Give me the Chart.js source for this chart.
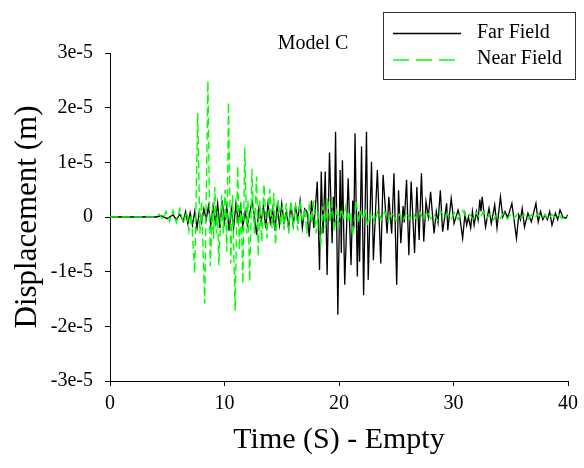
<!DOCTYPE html>
<html>
<head>
<meta charset="utf-8">
<script src="https://cdn.jsdelivr.net/npm/chart.js@4/dist/chart.umd.min.js"></script>
<style>
  html, body { margin: 0; padding: 0; background: #fff; }
  #wrap { width: 584px; height: 468px; position: relative; }
</style>
</head>
<body>
<div id="wrap"><canvas id="chart"></canvas></div>
<script>
// displacement values are in units of 1e-5 m
const UNIT = 1e-5;
const seriesNames = ['Far Field', 'Near Field'];
const xTickStep = 10;
const yTickLabels = ['-3e-5', '-2e-5', '-1e-5', '0', '1e-5', '2e-5', '3e-5'];

const farTime = [0, 4.0, 4.5, 5.0, 5.5, 5.8, 6.1, 6.4, 6.6, 6.8, 7.0, 7.2, 7.4, 7.6, 7.8, 8.0, 8.2, 8.4, 8.6, 8.8,
  9.0, 9.2, 9.4, 9.6, 9.8, 10.0, 10.2, 10.4, 10.6, 10.8, 11.0, 11.2, 11.4, 11.6, 11.8, 12.0, 12.4, 12.6, 12.8, 13.0,
  13.2, 13.4, 13.6, 13.8, 14.0, 14.2, 14.4, 14.6, 14.8, 15.0, 15.2, 15.4, 15.6, 15.8, 16.0, 16.2, 16.4, 16.6, 16.8, 17.0,
  17.2, 17.4, 17.6, 17.8, 18.1, 18.3, 18.45, 18.6, 18.8, 18.96, 19.17, 19.4, 19.5, 19.6, 19.7, 19.9, 20.1, 20.2, 20.3, 20.5,
  20.8, 21.05, 21.2, 21.3, 21.4, 21.6, 21.7, 21.8, 21.97, 22.15, 22.4, 22.55, 22.84, 23.0, 23.35, 23.65, 23.85, 24.2, 24.35, 24.6,
  24.8, 25.04, 25.2, 25.4, 25.6, 25.7, 25.9, 26.1, 26.3, 26.6, 26.8, 27.0, 27.2, 27.4, 27.6, 27.8, 28.0, 28.3, 28.5, 28.65,
  28.85, 29.05, 29.4, 29.5, 29.8, 30.05, 30.4, 30.55, 30.8, 31.0, 31.15, 31.3, 31.5, 31.65, 31.8, 32.0, 32.15, 32.3, 32.4, 32.5,
  32.8, 33.1, 33.3, 33.6, 33.8, 34.1, 34.3, 34.5, 34.7, 34.85, 35.1, 35.5, 35.7, 35.85, 36.0, 36.2, 36.5, 36.8, 37.2, 37.4,
  37.6, 37.8, 38.0, 38.2, 38.4, 38.6, 38.9, 39.1, 39.3, 39.55, 39.8, 40.0];
const farDisp = [0, 0, 0.02, -0.03, 0.04, -0.05, 0.05, -0.08, 0.1, -0.12, 0.08, -0.15, 0.1, -0.2, 0.1, -0.1, 0.15, -0.05, 0.2, -0.15,
  0.2, -0.1, 0.25, -0.2, 0.3, -0.1, 0.2, -0.25, 0.15, -0.2, 0.25, -0.1, 0.2, -0.18, 0.1, -0.15, 0.28, 0.05, -0.33, 0.15,
  -0.1, 0.2, -0.2, 0.25, -0.1, 0.15, -0.25, 0.2, -0.15, 0.25, -0.1, 0.1, -0.2, 0.25, -0.15, 0.2, -0.05, 0.3, -0.2, 0.15,
  0.1, -0.36, 0.3, -0.2, 0.65, -0.97, 0.83, -0.3, 0.83, -1.06, 1.18, -0.48, 0.37, -0.1, 1.56, -1.79, 0.86, -0.66, 1.04, -1.24,
  0.71, -0.88, 0.3, -0.2, 1.53, -1.09, 0.1, -0.82, 1.29, -1.43, 1.56, -1.15, 1.01, -0.79, 0.86, -0.85, 0.77, -0.3, 0.37, -0.3,
  0.8, -1.24, 0.49, -0.48, 0.2, -0.1, 0.68, -0.7, 0.65, -0.66, 0.55, -0.42, 0.8, -0.45, 0.28, 0.0, 0.46, -0.3, 0.1, -0.1,
  0.49, -0.27, 0.25, -0.24, 0.34, -0.12, 0.13, 0.0, -0.39, 0.05, -0.15, 0.0, -0.2, 0.1, -0.15, 0.1, -0.05, 0.32, 0.1, 0.37,
  -0.18, 0.16, -0.12, 0.22, -0.2, 0.37, 0.0, 0.1, 0.0, 0.07, 0.25, -0.39, 0.04, -0.05, 0.16, -0.18, 0.07, -0.09, 0.25, -0.09,
  0.1, -0.05, 0.04, -0.05, 0.1, -0.15, 0.07, -0.05, 0.13, 0.0, -0.02, 0.04];

const nearTime = [0, 4.0, 4.3, 4.6, 4.9, 5.2, 5.5, 5.8, 6.1, 6.4, 6.7, 6.9, 7.1, 7.4, 7.66, 7.85, 8.0, 8.27, 8.55, 8.76,
  8.95, 9.05, 9.15, 9.3, 9.4, 9.5, 9.75, 9.9, 10.05, 10.2, 10.35, 10.55, 10.7, 10.93, 11.15, 11.3, 11.45, 11.6, 11.77, 11.95,
  12.05, 12.2, 12.4, 12.6, 12.8, 12.95, 13.1, 13.25, 13.45, 13.7, 13.95, 14.15, 14.3, 14.46, 14.7, 14.9, 15.05, 15.2, 15.4, 15.6,
  15.8, 16.0, 16.2, 16.4, 16.6, 16.8, 17.0, 17.2, 17.4, 17.6, 17.8, 18.0, 18.2, 18.4, 18.6, 18.8, 19.0, 19.2, 19.4, 19.6,
  19.8, 20.0, 20.2, 20.4, 20.6, 20.8, 21.0, 21.2, 21.5, 21.7, 21.9, 22.1, 22.3, 22.5, 22.8, 23.1, 23.4, 23.7, 24.0, 24.3,
  24.6, 25.0, 25.3, 25.6, 25.9, 26.2, 26.5, 26.8, 27.1, 27.4, 27.7, 28.0, 28.3, 28.6, 28.9, 29.2, 29.5, 29.8, 30.1, 30.4,
  30.8, 31.1, 31.4, 31.7, 32.0, 32.3, 32.6, 32.9, 33.2, 33.5, 33.8, 34.1, 34.4, 34.7, 35.0, 35.3, 35.6, 35.9, 36.2, 36.5,
  36.8, 37.1, 37.4, 37.7, 38.0, 38.3, 38.6, 38.9, 39.2, 39.5, 39.8, 40.0];
const nearDisp = [0, 0, 0.05, -0.05, 0.1, -0.08, 0.12, -0.1, 0.15, -0.12, 0.1, -0.25, 0.05, -1.03, 1.9, -0.3, 0.3, -1.58, 2.49, -0.9,
  0.2, -0.4, 0.55, -0.3, 0.1, -0.88, 0.4, -0.3, 0.5, -0.63, 2.1, -0.85, 0.4, -1.72, 0.93, -0.6, 0.3, -1.22, 1.27, -0.3,
  0.3, -1.18, 0.88, -0.3, 0.74, -0.72, 0.3, -0.45, 0.6, -0.39, 0.51, -0.2, 0.44, -0.51, 0.31, -0.15, 0.2, -0.24, 0.25, -0.3,
  0.3, -0.2, 0.25, -0.25, 0.3, -0.1, 0.15, -0.3, 0.2, -0.1, 0.3, -0.3, 0.1, -0.54, 0.2, -0.2, 0.35, -0.1, 0.25, -0.25,
  0.1, -0.15, 0.15, 0.0, 0.2, -0.1, 0.1, -0.35, 0.31, -0.1, 0.15, -0.05, 0.1, -0.15, 0.08, -0.1, 0.12, -0.05, 0.1, -0.08,
  0.08, -0.06, 0.05, -0.08, 0.1, -0.04, 0.06, -0.05, 0.08, -0.06, 0.12, -0.03, 0.05, -0.06, 0.1, -0.02, 0.06, -0.05, 0.08, -0.04,
  0.12, 0.0, 0.05, -0.04, 0.08, -0.03, 0.1, -0.02, 0.06, -0.05, 0.05, -0.02, 0.08, -0.04, 0.05, -0.03, 0.06, -0.02, 0.05, -0.04,
  0.04, -0.02, 0.06, -0.03, 0.04, -0.04, 0.05, -0.02, 0.04, -0.03, 0.03, 0.0];

const toPoints = (ts, vs) => ts.map((t, i) => ({ x: t, y: vs[i] * UNIT }));

Chart.defaults.font.family = '"Liberation Serif", "Times New Roman", serif';
Chart.defaults.color = '#000';

// legend box and "Model C" label
const annotations = {
  id: 'annotations',
  afterDraw(chart) {
    const ctx = chart.ctx;
    ctx.save();
    ctx.font = '20px "Liberation Serif"';
    ctx.fillStyle = '#000';
    ctx.textBaseline = 'middle';
    ctx.textAlign = 'center';
    ctx.fillText('Model C', 313, 44);

    ctx.strokeStyle = '#333';
    ctx.lineWidth = 1;
    ctx.strokeRect(383.5, 12.5, 192, 67);

    ctx.textAlign = 'left';
    ctx.beginPath();
    ctx.strokeStyle = '#000';
    ctx.lineWidth = 1.3;
    ctx.moveTo(393, 33.5);
    ctx.lineTo(461, 33.5);
    ctx.stroke();
    ctx.fillText(seriesNames[0], 477, 33);

    ctx.beginPath();
    ctx.strokeStyle = '#00ff00';
    ctx.lineWidth = 1.6;
    ctx.setLineDash([16, 7]);
    ctx.moveTo(393, 60);
    ctx.lineTo(455, 60);
    ctx.stroke();
    ctx.setLineDash([]);
    ctx.fillText(seriesNames[1], 477, 59);
    ctx.restore();
  }
};

new Chart(document.getElementById('chart'), {
  type: 'line',
  data: {
    datasets: [{
      label: seriesNames[0],
      data: toPoints(farTime, farDisp),
      borderColor: '#000',
      borderWidth: 1.3,
      pointRadius: 0,
      tension: 0,
      order: 1
    }, {
      label: seriesNames[1],
      data: toPoints(nearTime, nearDisp),
      borderColor: '#00ff00',
      borderWidth: 1.4,
      borderDash: [8, 4],
      pointRadius: 0,
      tension: 0,
      order: 0
    }]
  },
  options: {
    responsive: true,
    maintainAspectRatio: false,
    animation: false,
    layout: { padding: { top: 53, right: 13, left: 0, bottom: 0 } },
    plugins: {
      legend: { display: false },
      tooltip: { enabled: false }
    },
    scales: {
      x: {
        type: 'linear',
        min: 0,
        max: 40,
        ticks: { stepSize: xTickStep, font: { size: 20 }, padding: 6, color: '#000', maxRotation: 0 },
        grid: { drawOnChartArea: false, tickLength: 5, tickColor: '#000' },
        border: { color: '#000', width: 1 },
        title: { display: true, text: 'Time (S) - Empty', font: { size: 30 }, color: '#000', padding: { top: 0, bottom: 10 } },
        afterFit: s => { s.height = 87; }
      },
      y: {
        min: -3 * UNIT,
        max: 3 * UNIT,
        ticks: {
          stepSize: UNIT,
          font: { size: 20 },
          padding: 12,
          color: '#000',
          callback: v => yTickLabels[Math.round(v / UNIT) + 3]
        },
        grid: { drawOnChartArea: false, tickLength: 5, tickColor: '#000' },
        border: { color: '#000', width: 1 },
        title: { display: true, text: 'Displacement (m)', font: { size: 31 }, color: '#000', padding: { top: 9, bottom: 0 } },
        afterFit: s => { s.width = 110; }
      }
    }
  },
  plugins: [annotations]
});
</script>
</body>
</html>
